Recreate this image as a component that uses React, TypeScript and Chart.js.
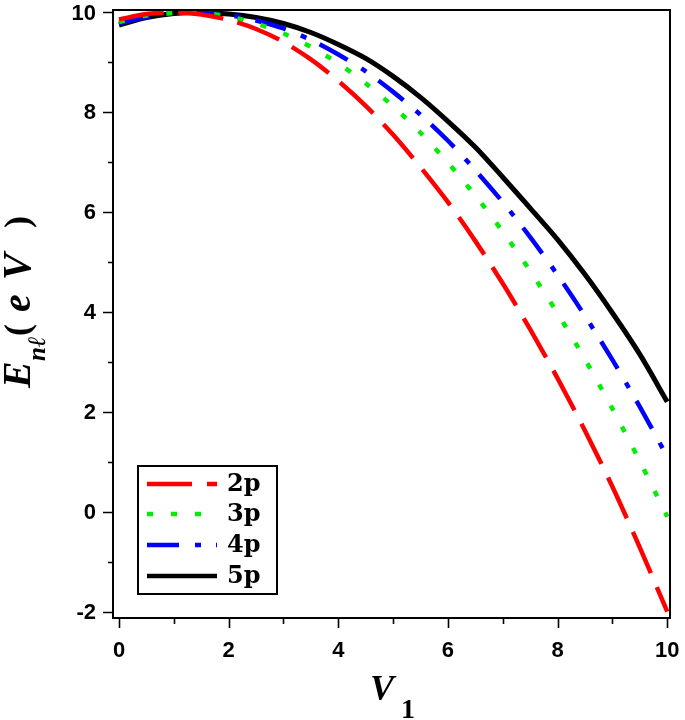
import React, { useEffect, useRef } from "react";
import { Chart, registerables } from "chart.js";

Chart.register(...registerables);

// ---- data ----
const vValues = [0, 0.5, 1, 1.5, 2, 2.5, 3, 3.5, 4, 4.5, 5, 5.5, 6, 6.5, 7, 7.5, 8, 8.5, 9, 9.5, 10];
const e2p = [9.86, 9.97, 10.0, 9.96, 9.85, 9.67, 9.41, 9.06, 8.63, 8.13, 7.55, 6.9, 6.2, 5.42, 4.57, 3.65, 2.67, 1.62, 0.5, -0.72, -2.0];
const e3p = [9.81, 9.94, 9.99, 9.99, 9.92, 9.78, 9.58, 9.31, 8.98, 8.58, 8.12, 7.59, 6.99, 6.33, 5.61, 4.82, 3.97, 3.05, 2.06, 1.01, -0.1];
const e4p = [9.78, 9.91, 9.99, 10.0, 9.95, 9.84, 9.68, 9.45, 9.16, 8.82, 8.41, 7.95, 7.43, 6.84, 6.2, 5.5, 4.74, 3.92, 3.04, 2.1, 1.1];
const e5p = [9.75, 9.9, 9.98, 10.0, 9.97, 9.9, 9.78, 9.6, 9.36, 9.08, 8.72, 8.3, 7.82, 7.3, 6.7, 6.08, 5.45, 4.75, 3.98, 3.15, 2.2];
const seriesLabels = ["2p", "3p", "4p", "5p"];
const xTickValues = [0, 1, 2, 3, 4, 5, 6, 7, 8, 9, 10];
const yTickValues = [-2, -1, 0, 1, 2, 3, 4, 5, 6, 7, 8, 9, 10];

const colors = ["#ff0000", "#00ee00", "#0000ff", "#000000"];
const dashes = [[45, 15], [6, 18], [32, 16, 6, 15], []];
const widths = [4.5, 4.5, 4.5, 5];

const tickFontCss = "bold 22px 'Liberation Sans'";

const drawPlugin = {
  id: "frameTicks",
  afterDraw(chart: any) {
    const { ctx, chartArea: a, scales } = chart;
    ctx.save();
    ctx.strokeStyle = "#000";
    ctx.lineWidth = 2;
    ctx.setLineDash([]);
    ctx.strokeRect(a.left, a.top, a.right - a.left, a.bottom - a.top);

    // tick marks
    ctx.lineWidth = 1.6;
    ctx.beginPath();
    for (const v of yTickValues) {
      const py = Math.round(scales.y.getPixelForValue(v)) + 0.5;
      const len = v % 2 === 0 ? 10 : 5;
      ctx.moveTo(a.left - len, py);
      ctx.lineTo(a.left, py);
    }
    for (const v of xTickValues) {
      const px = Math.round(scales.x.getPixelForValue(v)) + 0.5;
      const len = v % 2 === 0 ? 10 : 6;
      ctx.moveTo(px, a.bottom);
      ctx.lineTo(px, a.bottom + len);
    }
    ctx.stroke();

    // tick labels
    ctx.fillStyle = "#000";
    ctx.font = tickFontCss;
    ctx.textAlign = "right";
    ctx.textBaseline = "middle";
    for (const v of yTickValues) {
      if (v % 2 !== 0) continue;
      ctx.fillText(String(v), a.left - 17, scales.y.getPixelForValue(v) + 1);
    }
    ctx.textAlign = "center";
    ctx.textBaseline = "top";
    for (const v of xTickValues) {
      if (v % 2 !== 0) continue;
      ctx.fillText(String(v), scales.x.getPixelForValue(v), a.bottom + 22);
    }

    // legend box
    const bx = 138, by = 466, bw = 139, bh = 128;
    ctx.fillStyle = "#fff";
    ctx.fillRect(bx, by, bw, bh);
    ctx.lineWidth = 2;
    ctx.strokeStyle = "#000";
    ctx.strokeRect(bx, by, bw, bh);
    const rows = [484, 514, 545, 576];
    seriesLabels.forEach((lab, i) => {
      ctx.beginPath();
      ctx.setLineDash(dashes[i]);
      ctx.lineDashOffset = 0;
      ctx.strokeStyle = colors[i];
      ctx.lineWidth = 4.5;
      ctx.lineCap = "butt";
      ctx.moveTo(147, rows[i]);
      ctx.lineTo(217, rows[i]);
      ctx.stroke();
      ctx.setLineDash([]);
      ctx.fillStyle = "#000";
      ctx.font = "bold 24px 'DejaVu Serif'";
      ctx.textBaseline = "middle";
      ctx.textAlign = "left";
      ctx.fillText(lab, 227, rows[i] + 1);
    });

    // axis titles
    ctx.fillStyle = "#000";
    ctx.textBaseline = "alphabetic";
    ctx.textAlign = "left";
    // y title (rotated, reads bottom to top)
    ctx.save();
    ctx.translate(30, 388);
    ctx.rotate(-Math.PI / 2);
    const parts: [string, string, number, number][] = [
      ["E", "italic bold 40px 'Liberation Serif'", 0, 0],
      ["nℓ", "italic bold 25px 'Liberation Serif'", 27, 15],
      ["(", "bold 36px 'Liberation Serif'", 52, -1],
      ["e", "italic bold 40px 'Liberation Serif'", 76, 0],
      ["V", "italic bold 40px 'Liberation Serif'", 108, 0],
      [")", "bold 36px 'Liberation Serif'", 160, -1],
    ];
    for (const [t, f, ox, dy] of parts) {
      ctx.font = f;
      ctx.fillText(t, ox, dy);
    }
    ctx.restore();
    // x title
    ctx.font = "italic bold 36px 'Liberation Serif'";
    ctx.fillText("V", 370, 700);
    ctx.font = "bold 28px 'Liberation Serif'";
    ctx.fillText("1", 401, 718);
    ctx.restore();
  },
};

export default function App() {
  const ref = useRef<HTMLCanvasElement | null>(null);
  useEffect(() => {
    if (!ref.current) return;
    const all = [e2p, e3p, e4p, e5p];
    const chart = new Chart(ref.current, {
      type: "line",
      data: {
        datasets: all.map((arr, i) => ({
          label: seriesLabels[i],
          data: vValues.map((x, j) => ({ x, y: arr[j] })),
          borderColor: colors[i],
          borderWidth: widths[i],
          borderDash: dashes[i],
          borderCapStyle: "butt" as const,
          pointRadius: 0,
          tension: 0.3,
          fill: false,
        })),
      },
      options: {
        responsive: false,
        animation: false,
        layout: { padding: { top: 10, right: 15, left: 0, bottom: 0 } },
        plugins: { legend: { display: false }, tooltip: { enabled: false } },
        scales: {
          x: {
            type: "linear",
            min: -0.11,
            max: 10.05,
            afterBuildTicks: (s: any) => {
              s.ticks = xTickValues.map((v) => ({ value: v }));
            },
            afterFit: (s: any) => {
              s.height = 102;
            },
            grid: { display: false, drawTicks: false },
            border: { display: false },
            ticks: { display: false },
          },
          y: {
            type: "linear",
            min: -2.13,
            max: 10.05,
            afterBuildTicks: (s: any) => {
              s.ticks = yTickValues.map((v) => ({ value: v }));
            },
            afterFit: (s: any) => {
              s.width = 113;
            },
            grid: { display: false, drawTicks: false },
            border: { display: false },
            ticks: { display: false },
          },
        },
      },
      plugins: [drawPlugin],
    });
    return () => chart.destroy();
  }, []);
  return (
    <div style={{ position: "absolute", left: 0, top: 0, width: 685, height: 720, background: "#fff" }}>
      <canvas ref={ref} width={685} height={720} style={{ display: "block" }} />
    </div>
  );
}
